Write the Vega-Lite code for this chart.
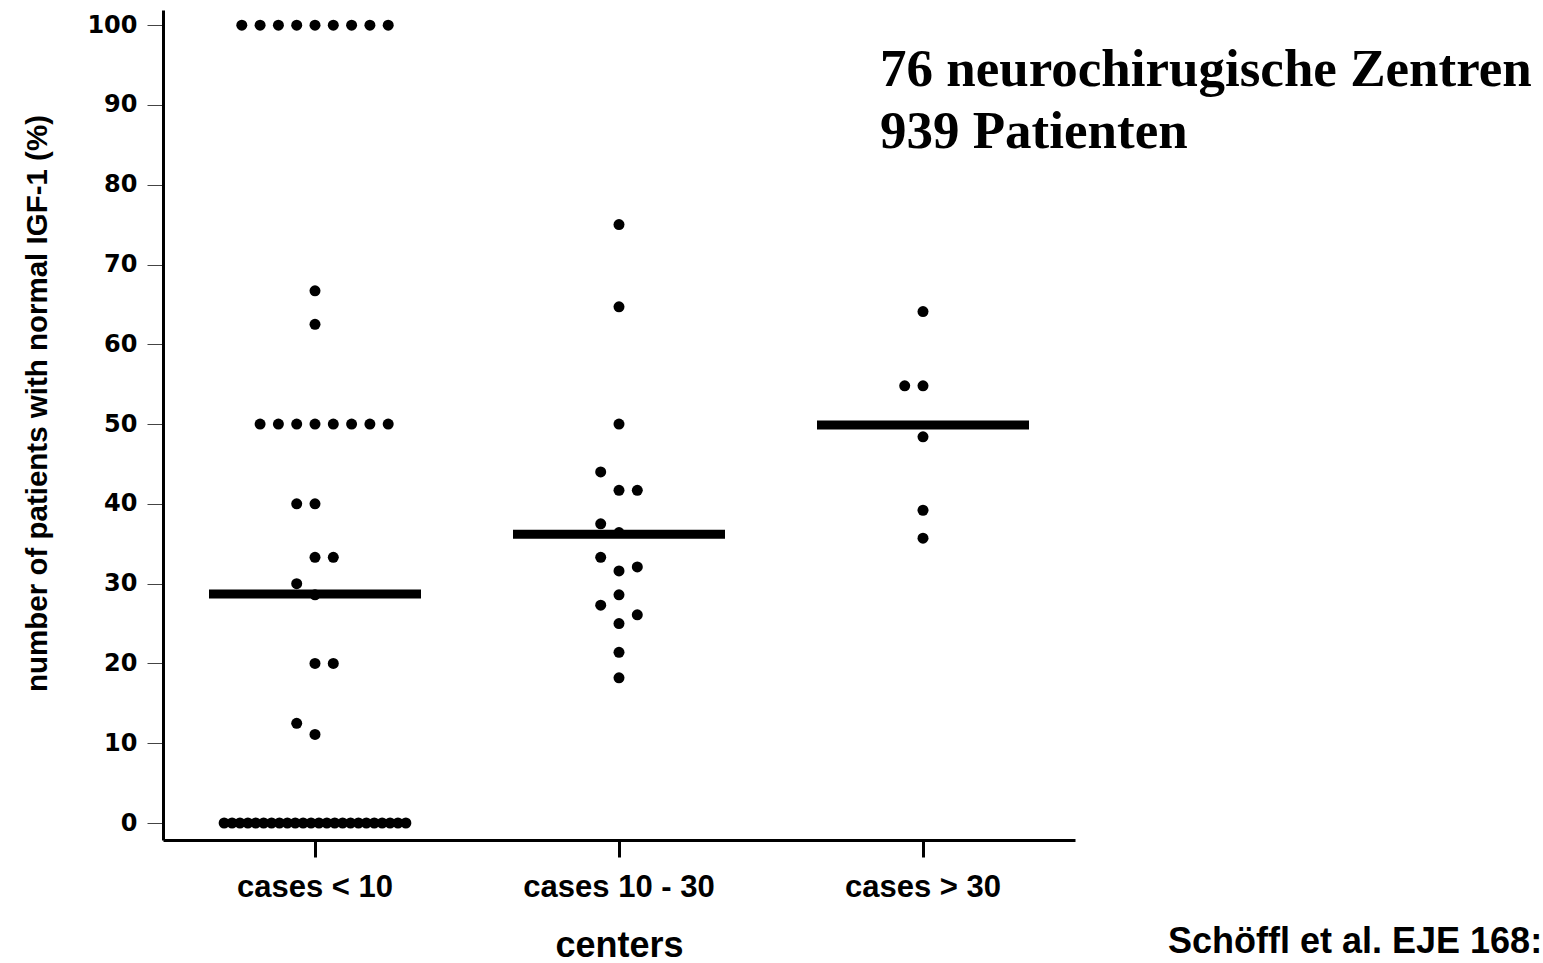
{
  "$schema": "https://vega.github.io/schema/vega-lite/v6.json",
  "width": 912,
  "height": 830,
  "autosize": {"type": "none"},
  "padding": {"left": 163, "top": 10, "right": 468, "bottom": 123},
  "background": "white",
  "config": {"view": {"stroke": null}},
  "datasets": {
    "points": [
      {"group": "cases < 10", "pct": 100, "slot": -4},
      {"group": "cases < 10", "pct": 100, "slot": -3},
      {"group": "cases < 10", "pct": 100, "slot": -2},
      {"group": "cases < 10", "pct": 100, "slot": -1},
      {"group": "cases < 10", "pct": 100, "slot": 0},
      {"group": "cases < 10", "pct": 100, "slot": 1},
      {"group": "cases < 10", "pct": 100, "slot": 2},
      {"group": "cases < 10", "pct": 100, "slot": 3},
      {"group": "cases < 10", "pct": 100, "slot": 4},
      {"group": "cases < 10", "pct": 66.7, "slot": 0},
      {"group": "cases < 10", "pct": 62.5, "slot": 0},
      {"group": "cases < 10", "pct": 50, "slot": -3},
      {"group": "cases < 10", "pct": 50, "slot": -2},
      {"group": "cases < 10", "pct": 50, "slot": -1},
      {"group": "cases < 10", "pct": 50, "slot": 0},
      {"group": "cases < 10", "pct": 50, "slot": 1},
      {"group": "cases < 10", "pct": 50, "slot": 2},
      {"group": "cases < 10", "pct": 50, "slot": 3},
      {"group": "cases < 10", "pct": 50, "slot": 4},
      {"group": "cases < 10", "pct": 40, "slot": -1},
      {"group": "cases < 10", "pct": 40, "slot": 0},
      {"group": "cases < 10", "pct": 33.3, "slot": 0},
      {"group": "cases < 10", "pct": 33.3, "slot": 1},
      {"group": "cases < 10", "pct": 30, "slot": -1},
      {"group": "cases < 10", "pct": 28.6, "slot": 0},
      {"group": "cases < 10", "pct": 20, "slot": 0},
      {"group": "cases < 10", "pct": 20, "slot": 1},
      {"group": "cases < 10", "pct": 12.5, "slot": -1},
      {"group": "cases < 10", "pct": 11.1, "slot": 0},
      {"group": "cases 10 - 30", "pct": 75, "slot": 0},
      {"group": "cases 10 - 30", "pct": 64.7, "slot": 0},
      {"group": "cases 10 - 30", "pct": 50, "slot": 0},
      {"group": "cases 10 - 30", "pct": 44, "slot": -1},
      {"group": "cases 10 - 30", "pct": 41.7, "slot": 0},
      {"group": "cases 10 - 30", "pct": 41.7, "slot": 1},
      {"group": "cases 10 - 30", "pct": 37.5, "slot": -1},
      {"group": "cases 10 - 30", "pct": 36.4, "slot": 0},
      {"group": "cases 10 - 30", "pct": 33.3, "slot": -1},
      {"group": "cases 10 - 30", "pct": 32.1, "slot": 1},
      {"group": "cases 10 - 30", "pct": 31.6, "slot": 0},
      {"group": "cases 10 - 30", "pct": 28.6, "slot": 0},
      {"group": "cases 10 - 30", "pct": 27.3, "slot": -1},
      {"group": "cases 10 - 30", "pct": 26.1, "slot": 1},
      {"group": "cases 10 - 30", "pct": 25, "slot": 0},
      {"group": "cases 10 - 30", "pct": 21.4, "slot": 0},
      {"group": "cases 10 - 30", "pct": 18.2, "slot": 0},
      {"group": "cases > 30", "pct": 64.1, "slot": 0},
      {"group": "cases > 30", "pct": 54.8, "slot": -1},
      {"group": "cases > 30", "pct": 54.8, "slot": 0},
      {"group": "cases > 30", "pct": 48.4, "slot": 0},
      {"group": "cases > 30", "pct": 39.2, "slot": 0},
      {"group": "cases > 30", "pct": 35.7, "slot": 0}
    ],
    "zeros": [
      {"group": "cases < 10", "pct": 0, "slot": 0},
      {"group": "cases < 10", "pct": 0, "slot": 1},
      {"group": "cases < 10", "pct": 0, "slot": 2},
      {"group": "cases < 10", "pct": 0, "slot": 3},
      {"group": "cases < 10", "pct": 0, "slot": 4},
      {"group": "cases < 10", "pct": 0, "slot": 5},
      {"group": "cases < 10", "pct": 0, "slot": 6},
      {"group": "cases < 10", "pct": 0, "slot": 7},
      {"group": "cases < 10", "pct": 0, "slot": 8},
      {"group": "cases < 10", "pct": 0, "slot": 9},
      {"group": "cases < 10", "pct": 0, "slot": 10},
      {"group": "cases < 10", "pct": 0, "slot": 11},
      {"group": "cases < 10", "pct": 0, "slot": 12},
      {"group": "cases < 10", "pct": 0, "slot": 13},
      {"group": "cases < 10", "pct": 0, "slot": 14},
      {"group": "cases < 10", "pct": 0, "slot": 15},
      {"group": "cases < 10", "pct": 0, "slot": 16},
      {"group": "cases < 10", "pct": 0, "slot": 17},
      {"group": "cases < 10", "pct": 0, "slot": 18},
      {"group": "cases < 10", "pct": 0, "slot": 19},
      {"group": "cases < 10", "pct": 0, "slot": 20},
      {"group": "cases < 10", "pct": 0, "slot": 21},
      {"group": "cases < 10", "pct": 0, "slot": 22},
      {"group": "cases < 10", "pct": 0, "slot": 23}
    ],
    "medians": [
      {"group": "cases < 10", "median": 28.7},
      {"group": "cases 10 - 30", "median": 36.2},
      {"group": "cases > 30", "median": 49.9}
    ]
  },
  "resolve": {"scale": {"xOffset": "independent"}},
  "encoding": {
    "x": {
      "field": "group",
      "type": "nominal",
      "sort": ["cases < 10", "cases 10 - 30", "cases > 30"],
      "scale": {"domain": ["cases < 10", "cases 10 - 30", "cases > 30"], "paddingInner": 0, "paddingOuter": 0},
      "axis": {
        "title": "centers",
        "labelAngle": 0,
        "labelLimit": 0,
        "labelFont": "Liberation Sans",
        "labelFontWeight": "bold",
        "labelFontSize": 31,
        "labelColor": "black",
        "labelPadding": 15,
        "tickSize": 17,
        "tickWidth": 3,
        "tickColor": "black",
        "domainWidth": 3,
        "domainColor": "black",
        "titleFont": "Liberation Sans",
        "titleFontWeight": "bold",
        "titleFontSize": 36,
        "titleColor": "black",
        "titlePadding": 26
      }
    },
    "y": {
      "type": "quantitative",
      "scale": {"domain": [-2.13, 101.9], "nice": false, "zero": false},
      "axis": {
        "title": "number of patients with normal IGF-1 (%)",
        "values": [0, 10, 20, 30, 40, 50, 60, 70, 80, 90, 100],
        "grid": false,
        "labelFont": "DejaVu Sans",
        "labelFontWeight": "bold",
        "labelFontSize": 24,
        "labelColor": "black",
        "labelPadding": 10,
        "tickSize": 16,
        "tickWidth": 1,
        "tickColor": "#444444",
        "domainWidth": 3,
        "domainColor": "black",
        "titleFont": "Liberation Sans",
        "titleFontWeight": "bold",
        "titleFontSize": 29.5,
        "titleColor": "black",
        "titlePadding": 34,
        "titleY": 393
      }
    }
  },
  "layer": [
    {
      "data": {"name": "points"},
      "mark": {"type": "circle", "size": 121, "opacity": 1, "color": "black"},
      "encoding": {
        "y": {"field": "pct", "type": "quantitative"},
        "xOffset": {"field": "slot", "type": "quantitative", "scale": {"domain": [-8.306, 8.306], "nice": false, "zero": false}}
      }
    },
    {
      "data": {"name": "zeros"},
      "mark": {"type": "circle", "size": 121, "opacity": 1, "color": "black"},
      "encoding": {
        "y": {"field": "pct", "type": "quantitative"},
        "xOffset": {"field": "slot", "type": "quantitative", "scale": {"domain": [-7.74, 30.74], "nice": false, "zero": false}}
      }
    },
    {
      "data": {"name": "medians"},
      "mark": {"type": "tick", "size": 212, "thickness": 9, "color": "black", "opacity": 1},
      "encoding": {
        "y": {"field": "median", "type": "quantitative"}
      }
    },
    {
      "data": {"values": [{"label": "annotation"}]},
      "mark": {
        "type": "text",
        "font": "Liberation Serif",
        "fontWeight": "bold",
        "fontSize": 53,
        "lineHeight": 62,
        "align": "left",
        "baseline": "alphabetic",
        "dx": -43,
        "color": "black"
      },
      "encoding": {
        "x": {"datum": "cases > 30"},
        "y": {"datum": 92.4},
        "text": {"value": ["76 neurochirugische Zentren", "939 Patienten"]}
      }
    },
    {
      "data": {"values": [{"label": "citation"}]},
      "mark": {
        "type": "text",
        "font": "Liberation Sans",
        "fontWeight": "bold",
        "fontSize": 36,
        "align": "left",
        "baseline": "alphabetic",
        "dx": 245,
        "color": "black"
      },
      "encoding": {
        "x": {"datum": "cases > 30"},
        "y": {"datum": -16.3},
        "text": {"value": "Schöffl et al. EJE 168:"}
      }
    }
  ]
}
